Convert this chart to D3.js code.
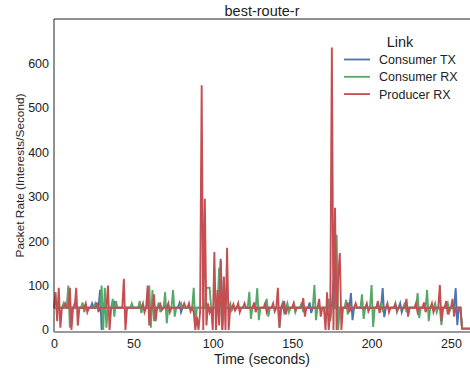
<!DOCTYPE html>
<html>
<head>
<meta charset="utf-8">
<script src="https://cdn.jsdelivr.net/npm/d3@7"></script>
<style>
  body { margin: 0; background: #fff; }
  text { font-family: "Liberation Sans", Arial, sans-serif; fill: #222; }
</style>
</head>
<body>
<svg id="chart" width="470" height="368"></svg>
<script>
// [time (s), rate (interests/s)]
const consumerTx = [
  [0,50],[23,50],[24,60],[25,50],[28,50],[29,90],[30,0],[31,50],[37,50],[38,65],[39,50],
  [69,50],[70,60],[71,40],[72,50],[78,50],[79,60],[80,40],[81,50],[104,50],[105,160],[106,50],
  [143,50],[144,60],[145,40],[146,50],[160,50],[161,62],[162,38],[163,50],[175,50],[176,112],[177,50],
  [186,50],[187,83],[188,22],[189,50],[206,50],[207,94],[208,29],[209,50],[217,50],[218,60],[219,40],[220,50],
  [252,50],[253,94],[254,11],[255,50],[256,50],[257,3],[262,3]
];
const consumerRx = [
  [0,50],[5,50],[6,60],[7,50],[8,50],[9,100],[10,5],[11,50],[12,50],[13,60],[14,50],
  [17,50],[18,62],[19,40],[20,50],
  [25,50],[26,60],[27,50],[29,50],[30,100],[31,0],[32,95],[33,5],[34,50],[36,50],[37,70],[38,30],[39,65],[40,50],
  [48,50],[49,60],[50,50],[53,50],[54,65],[55,38],[56,50],[59,50],[60,100],[61,5],[62,90],[63,20],[64,50],
  [65,50],[66,62],[67,40],[68,50],
  [69,50],[70,85],[71,15],[72,50],[74,50],[75,90],[76,30],[77,50],[79,50],[80,60],[81,50],
  [87,50],[88,95],[89,10],[90,50],[95,50],[96,95],[97,95],[98,95],[99,50],[103,50],[104,140],[105,60],[106,0],[107,50],
  [110,50],[111,60],[112,44],[113,50],
  [122,50],[123,86],[124,25],[125,50],[127,50],[128,94],[129,22],[130,50],
  [133,50],[134,70],[135,30],[136,50],
  [141,50],[142,5],[143,50],[146,50],[147,60],[148,40],[149,50],[150,50],[151,60],[152,40],[153,50],
  [155,50],[156,62],[157,40],[158,50],
  [163,50],[164,101],[165,22],[166,50],[172,50],[173,70],[174,20],[175,50],[177,50],[178,214],[179,0],[180,50],
  [183,50],[184,68],[185,35],[186,50],
  [193,50],[194,80],[195,25],[196,50],[199,50],[200,101],[201,7],[202,50],
  [205,50],[206,60],[207,44],[208,50],
  [214,50],[215,60],[216,40],[217,50],[220,50],[221,62],[222,40],[223,50],
  [228,50],[229,83],[230,27],[231,50],[234,50],[235,90],[236,20],[237,50],
  [239,50],[240,60],[241,40],[242,50],
  [243,50],[244,11],[245,50],[247,50],[248,60],[249,40],[250,50],[256,50],[257,3],[262,3]
];
const producerRx = [
  [0,50],[1,85],[2,20],[3,95],[4,5],[5,50],[6,50],[7,60],[8,50],[9,50],[10,95],[11,0],[12,50],[13,50],[14,95],[15,10],[16,50],
  [19,50],[20,60],[21,40],[22,50],[26,50],[27,62],[28,40],[29,50],
  [33,50],[34,100],[35,0],[36,50],[43,50],[44,115],[45,0],[46,50],
  [55,50],[56,60],[57,40],[58,50],[59,100],[60,10],[61,50],[62,50],[63,80],[64,20],[65,50],
  [66,50],[67,58],[68,45],[69,50],
  [71,50],[72,60],[73,40],[74,50],[81,50],[82,60],[83,50],[84,50],[85,60],[86,42],[87,50],
  [88,40],[89,0],[90,30],[91,0],[92,40],[93,550],[94,0],[95,295],[96,10],[97,60],[98,40],[99,50],
  [100,0],[101,175],[102,0],[103,90],[104,10],[105,155],[106,0],[107,120],[108,0],[109,185],[110,0],[111,50],
  [112,50],[113,58],[114,44],[115,50],[116,60],[117,40],[118,50],[119,50],[120,60],[121,50],
  [125,50],[126,62],[127,40],[128,50],[132,50],[133,60],[134,40],[135,50],
  [137,50],[138,60],[139,42],[140,50],[141,95],[142,5],[143,50],[144,50],[145,65],[146,35],[147,50],
  [150,50],[151,60],[152,45],[153,50],[156,50],[157,72],[158,30],[159,50],
  [166,50],[167,70],[168,30],[169,50],[170,50],[171,0],[172,85],[173,0],[174,40],[175,635],[176,0],[177,275],[178,0],
  [179,120],[180,173],[181,0],[182,50],[184,50],[185,62],[186,40],[187,50],[189,50],[190,60],[191,50],
  [196,50],[197,60],[198,42],[199,50],[203,50],[204,65],[205,38],[206,50],[209,50],[210,60],[211,40],[212,50],
  [214,50],[215,58],[216,44],[217,50],[221,50],[222,70],[223,30],[224,50],[227,50],[228,60],[229,40],[230,50],
  [232,50],[233,62],[234,40],[235,50],[237,50],[238,60],[239,40],[240,50],
  [242,50],[243,101],[244,20],[245,50],[246,50],[247,65],[248,35],[249,50],[250,50],[251,70],[252,30],[253,50],
  [256,50],[257,3],[262,3]
];

const seriesNames = ['Consumer TX', 'Consumer RX', 'Producer RX'];
const seriesColors = ['#4C72B0', '#55A868', '#C44E52'];
const xTicks = [0, 50, 100, 150, 200, 250];
const yTicks = [0, 100, 200, 300, 400, 500, 600];

const svg = d3.select('#chart');
const m = { left: 54, right: 470, top: 19, bottom: 332 };

const x = d3.scaleLinear().domain([0, 262]).range([m.left, m.right]);
const y = d3.scaleLinear().domain([-4.5, 699]).range([m.bottom, m.top]);

const line = d3.line().x(d => x(d[0])).y(d => y(d[1]));

[consumerTx, consumerRx, producerRx].forEach((s, i) => {
  svg.append('path')
    .datum(s)
    .attr('d', line)
    .attr('fill', 'none')
    .attr('stroke', seriesColors[i])
    .attr('stroke-width', 1.9);
});

// frame
svg.append('line').attr('x1', m.left).attr('x2', m.right).attr('y1', m.top).attr('y2', m.top)
  .attr('stroke', '#222').attr('stroke-width', 1);
svg.append('line').attr('x1', m.left).attr('x2', m.left).attr('y1', m.top).attr('y2', m.bottom)
  .attr('stroke', '#222').attr('stroke-width', 1);
svg.append('line').attr('x1', m.left).attr('x2', m.right).attr('y1', m.bottom).attr('y2', m.bottom)
  .attr('stroke', '#999').attr('stroke-width', 2);

const xAxis = svg.append('g')
  .attr('transform', `translate(0,${m.bottom + 4})`)
  .call(d3.axisBottom(x).tickValues(xTicks).tickSize(0).tickPadding(0));
xAxis.select('.domain').remove();
xAxis.selectAll('text').attr('font-size', 12.5).attr('fill', '#222').attr('dy', '0.95em');

const yAxis = svg.append('g')
  .attr('transform', `translate(${m.left - 5},0)`)
  .call(d3.axisLeft(y).tickValues(yTicks).tickSize(0).tickPadding(0));
yAxis.select('.domain').remove();
yAxis.selectAll('text').attr('font-size', 12.5).attr('fill', '#222');

svg.append('text')
  .attr('x', (m.left + m.right) / 2).attr('y', 16)
  .attr('text-anchor', 'middle').attr('font-size', 14.5)
  .text('best-route-r');

svg.append('text')
  .attr('x', (m.left + m.right) / 2).attr('y', 364)
  .attr('text-anchor', 'middle').attr('font-size', 14)
  .text('Time (seconds)');

svg.append('text')
  .attr('transform', `translate(24,${(m.top + m.bottom) / 2}) rotate(-90)`)
  .attr('text-anchor', 'middle').attr('font-size', 11.8)
  .text('Packet Rate (Interests/Second)');

// legend
const legend = svg.append('g');
legend.append('text')
  .attr('x', 400).attr('y', 47)
  .attr('text-anchor', 'middle').attr('font-size', 14.5)
  .text('Link');
seriesNames.forEach((name, i) => {
  const ly = 59.5 + i * 17.3;
  legend.append('line')
    .attr('x1', 344).attr('x2', 370).attr('y1', ly).attr('y2', ly)
    .attr('stroke', seriesColors[i]).attr('stroke-width', 1.8);
  legend.append('text')
    .attr('x', 379).attr('y', ly + 4.5)
    .attr('font-size', 12.5)
    .text(name);
});
</script>
</body>
</html>
